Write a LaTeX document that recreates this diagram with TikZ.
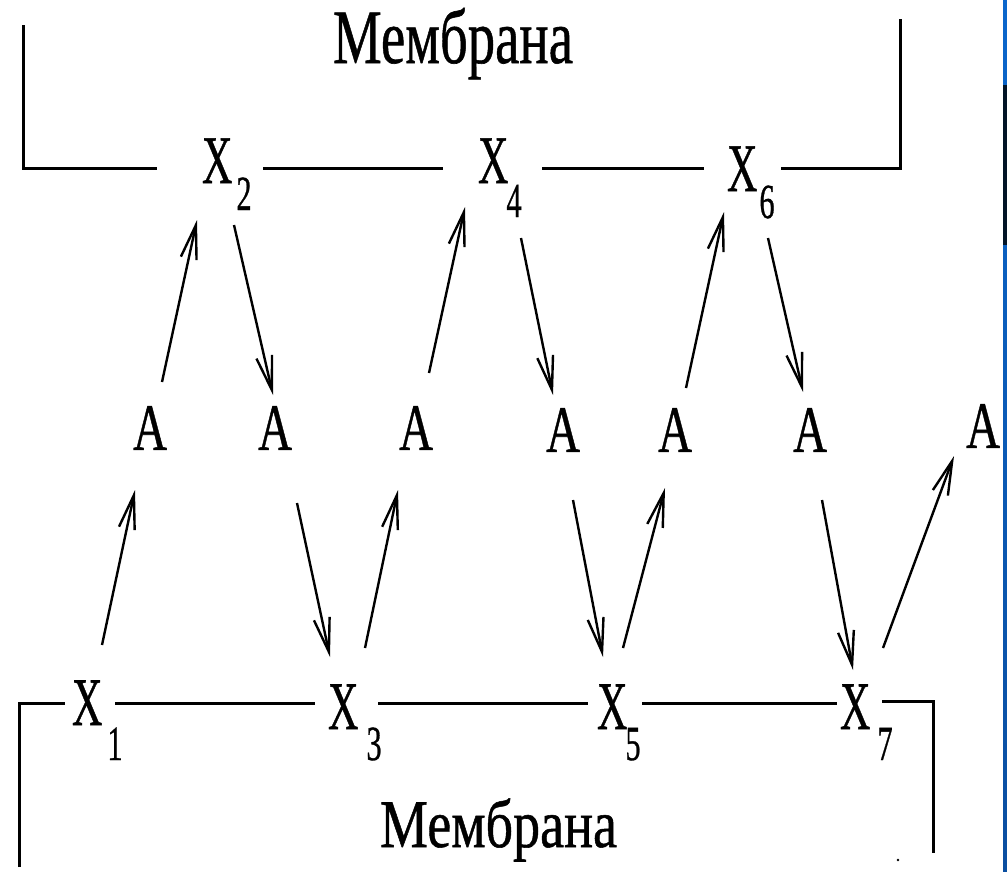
\documentclass[tikz,border=0pt]{standalone}
\usepackage{fontspec}
\setmainfont[FakeBold=0.8,AutoFakeBold=0.8]{Liberation Serif}
\usepackage{graphicx}
\usetikzlibrary{arrows.meta}
\definecolor{stripblue}{RGB}{10,102,204}
\definecolor{stripblue2}{RGB}{10,78,160}
\definecolor{stripdark}{RGB}{2,20,38}
\newcommand{\xlab}[3]{\fontsize{68}{68}\selectfont\scalebox{0.62}[1]{X}\kern#2pt\raisebox{-#3pt}{\fontsize{49}{49}\selectfont\scalebox{0.62}[1]{#1}}}
\newcommand{\alab}{\scalebox{0.71}[1]{A}}
\begin{document}
\begin{tikzpicture}[x=1pt,y=-1pt,
  xn/.style={anchor=base west,inner sep=0pt,outer sep=0pt},
  an/.style={inner sep=0pt,outer sep=0pt,font=\fontsize{66}{66}\selectfont},
  memb/.style={line width=3pt},
  arr/.style={line width=2.4pt,-{Straight Barb[length=34pt,width=16pt]}}]
\fill[white] (0,0) rectangle (1007,871);
\useasboundingbox (0,0) rectangle (1007,871);
% right strip
\shade[top color=stripblue,bottom color=stripblue2] (1003,0) rectangle (1007,871);
\fill[stripdark] (1003,85) rectangle (1007,245);

% membrane labels
\node[xn] (mtop) at (333,63) {\resizebox{240pt}{\height}{\fontsize{77}{77}\selectfont Мембрана}};
\node[xn] (mbot) at (380,847) {\resizebox{237pt}{\height}{\fontsize{68}{68}\selectfont Мембрана}};

% X nodes
\node[xn] (x1) at (72,725) {\xlab{1}{5}{35}};
\node[xn] (x2) at (202,183) {\xlab{2}{4}{27}};
\node[xn] (x3) at (328,729) {\xlab{3}{8}{31}};
\node[xn] (x4) at (478,183) {\xlab{4}{-2}{34}};
\node[xn] (x5) at (597,729) {\xlab{5}{-2}{31}};
\node[xn] (x6) at (727,191) {\xlab{6}{2}{27}};
\node[xn] (x7) at (840,729) {\xlab{7}{7}{31}};

% A nodes
\node[an] (a1) at (150,428) {\alab};
\node[an] (a2) at (275,428) {\alab};
\node[an] (a3) at (416,428) {\alab};
\node[an] (a4) at (563,430) {\alab};
\node[an] (a5) at (675,430) {\alab};
\node[an] (a6) at (810,430) {\alab};
\node[an] (a7) at (983,426) {\alab};

% membranes
\draw[memb] (23,25) -- (23,168) -- (157,168);
\draw[memb] (263,168) -- (443,168);
\draw[memb] (542,168) -- (704,168);
\draw[memb] (781,168) -- (900,168) -- (900,19);
\draw[memb] (19,867) -- (19,703) -- (65,703);
\draw[memb] (115,703) -- (315,703);
\draw[memb] (378,703) -- (588,703);
\draw[memb] (642,703) -- (837,703);
\draw[memb] (882,701) -- (933,701) -- (933,853);
\fill (898,860) circle (1.3pt);

% arrows
\draw[arr] ([shift={(30,-80)}]x1.base west) -- ([shift={(-15,62)}]a1.center);
\draw[arr] ([shift={(12,-46)}]a1.center) -- ([shift={(-5,37)}]x2.base west);
\draw[arr] ([shift={(32,42)}]x2.base west) -- ([shift={(-2,-33)}]a2.center);
\draw[arr] ([shift={(22,75)}]a2.center) -- ([shift={(2,-72)}]x3.base west);
\draw[arr] ([shift={(37,-81)}]x3.base west) -- ([shift={(-18,62)}]a3.center);
\draw[arr] ([shift={(13,-55)}]a3.center) -- ([shift={(-13,24)}]x4.base west);
\draw[arr] ([shift={(43,55)}]x4.base west) -- ([shift={(-10,-35)}]a4.center);
\draw[arr] ([shift={(10,70)}]a4.center) -- ([shift={(6,-72)}]x5.base west);
\draw[arr] ([shift={(26,-81)}]x5.base west) -- ([shift={(-10,58)}]a5.center);
\draw[arr] ([shift={(11,-42)}]a5.center) -- ([shift={(-3,21)}]x6.base west);
\draw[arr] ([shift={(41,47)}]x6.base west) -- ([shift={(-7,-38)}]a6.center);
\draw[arr] ([shift={(12,70)}]a6.center) -- ([shift={(13,-59)}]x7.base west);
\draw[arr] ([shift={(43,-81)}]x7.base west) -- ([shift={(-29,30)}]a7.center);
\end{tikzpicture}
\end{document}
